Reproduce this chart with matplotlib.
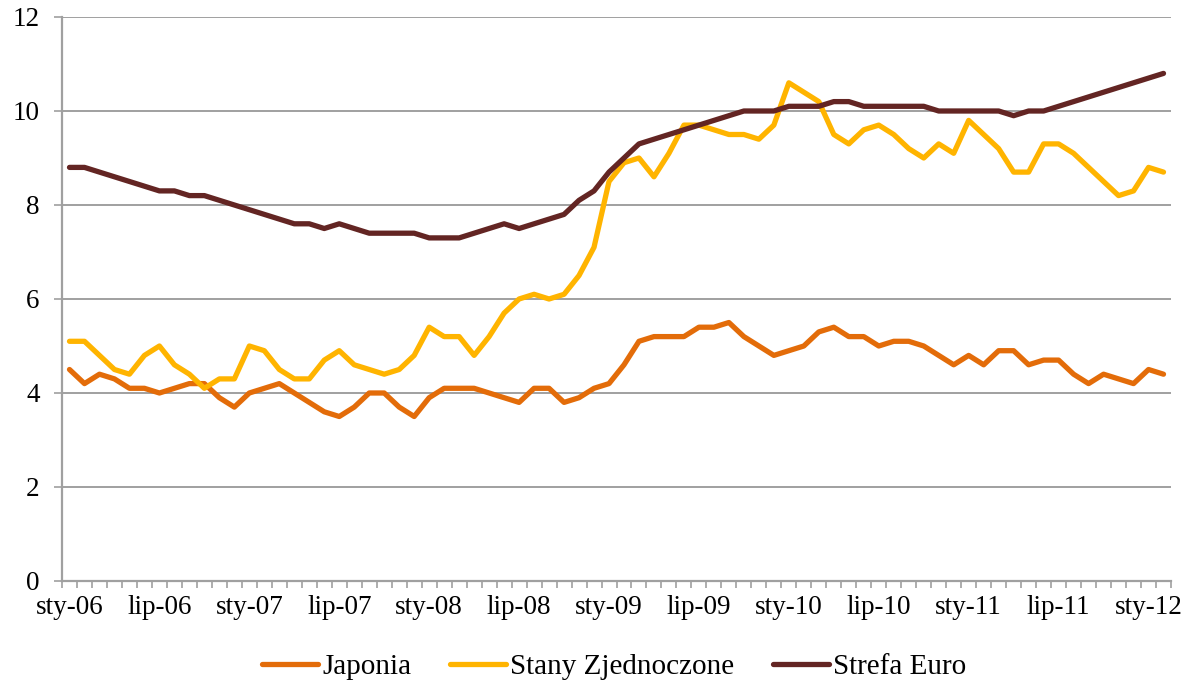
import numpy as np
import matplotlib
matplotlib.use("Agg")
import matplotlib.pyplot as plt
from matplotlib.ticker import MultipleLocator, FixedLocator

# --- dane (sty-06 .. lut-12, miesięcznie) ---
japonia = [4.5, 4.2, 4.4, 4.3, 4.1, 4.1, 4.0, 4.1, 4.2, 4.2,
           3.9, 3.7, 4.0, 4.1, 4.2, 4.0, 3.8, 3.6, 3.5, 3.7,
           4.0, 4.0, 3.7, 3.5, 3.9, 4.1, 4.1, 4.1, 4.0, 3.9,
           3.8, 4.1, 4.1, 3.8, 3.9, 4.1, 4.2, 4.6, 5.1, 5.2,
           5.2, 5.2, 5.4, 5.4, 5.5, 5.2, 5.0, 4.8, 4.9, 5.0,
           5.3, 5.4, 5.2, 5.2, 5.0, 5.1, 5.1, 5.0, 4.8, 4.6,
           4.8, 4.6, 4.9, 4.9, 4.6, 4.7, 4.7, 4.4, 4.2, 4.4,
           4.3, 4.2, 4.5, 4.4]

usa = [5.1, 5.1, 4.8, 4.5, 4.4, 4.8, 5.0, 4.6, 4.4, 4.1,
       4.3, 4.3, 5.0, 4.9, 4.5, 4.3, 4.3, 4.7, 4.9, 4.6,
       4.5, 4.4, 4.5, 4.8, 5.4, 5.2, 5.2, 4.8, 5.2, 5.7,
       6.0, 6.1, 6.0, 6.1, 6.5, 7.1, 8.5, 8.9, 9.0, 8.6,
       9.1, 9.7, 9.7, 9.6, 9.5, 9.5, 9.4, 9.7, 10.6, 10.4,
       10.2, 9.5, 9.3, 9.6, 9.7, 9.5, 9.2, 9.0, 9.3, 9.1,
       9.8, 9.5, 9.2, 8.7, 8.7, 9.3, 9.3, 9.1, 8.8, 8.5,
       8.2, 8.3, 8.8, 8.7]

euro = [8.8, 8.8, 8.7, 8.6, 8.5, 8.4, 8.3, 8.3, 8.2, 8.2,
        8.1, 8.0, 7.9, 7.8, 7.7, 7.6, 7.6, 7.5, 7.6, 7.5,
        7.4, 7.4, 7.4, 7.4, 7.3, 7.3, 7.3, 7.4, 7.5, 7.6,
        7.5, 7.6, 7.7, 7.8, 8.1, 8.3, 8.7, 9.0, 9.3, 9.4,
        9.5, 9.6, 9.7, 9.8, 9.9, 10.0, 10.0, 10.0, 10.1, 10.1,
        10.1, 10.2, 10.2, 10.1, 10.1, 10.1, 10.1, 10.1, 10.0, 10.0,
        10.0, 10.0, 10.0, 9.9, 10.0, 10.0, 10.1, 10.2, 10.3, 10.4,
        10.5, 10.6, 10.7, 10.8]

tick_labels = ['sty-06', 'lip-06', 'sty-07', 'lip-07', 'sty-08', 'lip-08',
               'sty-09', 'lip-09', 'sty-10', 'lip-10', 'sty-11', 'lip-11', 'sty-12']

series_names = ['Japonia', 'Stany Zjednoczone', 'Strefa Euro']
colors = ['#E36C09', '#FFB400', '#632523']

plt.rcParams['font.family'] = ['Liberation Serif', 'DejaVu Serif']

fig = plt.figure(figsize=(11.86, 6.83), dpi=100)
ax = fig.add_axes([62 / 1186, 1 - 581 / 683, (1171 - 62) / 1186, (581 - 17) / 683])

x = np.arange(len(euro))
for vals, name, col in zip([japonia, usa, euro], series_names, colors):
    ax.plot(x, vals, color=col, lw=3.8, label=name, solid_joinstyle='round',
            solid_capstyle='round', zorder=3)

grid_col = '#A0A0A0'
ax.set_xlim(-0.5, len(euro) - 0.5)
ax.set_ylim(0, 12)
ax.yaxis.set_major_locator(MultipleLocator(2))
ax.yaxis.grid(True, color=grid_col, lw=1.4, zorder=0)
ax.set_axisbelow(True)

# etykiety co 6 miesięcy, kreski między kategoriami
ax.xaxis.set_major_locator(FixedLocator(np.arange(0, len(euro), 6)))
ax.set_xticklabels(tick_labels)
ax.xaxis.set_minor_locator(FixedLocator(np.arange(-0.5, len(euro), 1)))
ax.tick_params(axis='x', which='major', length=0, pad=10, labelsize=19.5)
ax.tick_params(axis='x', which='minor', length=5, width=1.2, color=grid_col, direction='out')
ax.tick_params(axis='y', which='major', length=6, width=1.2, color=grid_col,
               direction='out', pad=10, labelsize=19.5)

for s in ['top', 'right']:
    ax.spines[s].set_visible(False)
for s in ['left', 'bottom']:
    ax.spines[s].set_color(grid_col)
    ax.spines[s].set_linewidth(1.6)

fig.legend(loc='center', bbox_to_anchor=(0.518, 0.024), ncol=3, frameon=False,
           fontsize=21, handlelength=1.9, handletextpad=0.14, columnspacing=1.35)

fig.savefig('out.png', dpi=100)
